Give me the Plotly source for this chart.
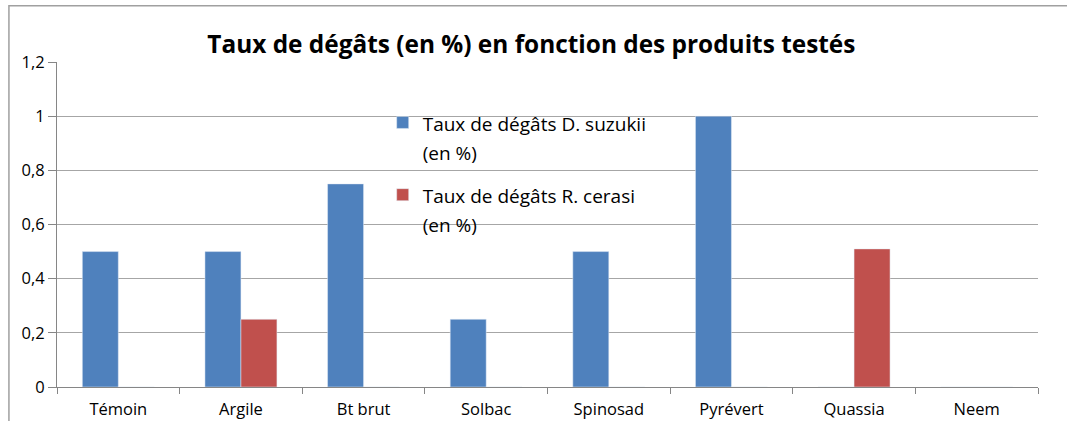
import plotly.graph_objects as go

categories = ["Témoin", "Argile", "Bt brut", "Solbac", "Spinosad", "Pyrévert", "Quassia", "Neem"]
suzukii = [0.5, 0.5, 0.75, 0.25, 0.5, 1.0, 0, 0]
cerasi = [0, 0.25, 0, 0, 0, 0, 0.51, 0]
name_suzukii = "Taux de dégâts D. suzukii<br>(en %)"
name_cerasi = "Taux de dégâts R. cerasi<br>(en %)"
title_text = "Taux de dégâts (en %) en fonction des produits testés"
y_ticks = [0, 0.2, 0.4, 0.6, 0.8, 1.0, 1.2]

FONT = "'Open Sans', Carlito, sans-serif"
LEG_TXT = 19

def leg(name):
    return "<span style='font-size:%dpx'>%s</span>" % (LEG_TXT, name.replace("<br>", "</span><br><span style='font-size:%dpx'>" % LEG_TXT))

fig = go.Figure()
fig.add_trace(go.Bar(x=categories, y=suzukii, name=leg(name_suzukii), marker_color="#4F81BD",
                     legendgroup="a"))
fig.add_trace(go.Bar(x=categories, y=cerasi, name=leg(name_cerasi), marker_color="#C0504D",
                     legendgroup="b"))

fig.update_layout(
    width=1067, height=421,
    margin=dict(l=57, r=29, t=62, b=34, autoexpand=False),
    paper_bgcolor="white", plot_bgcolor="white",
    separators=", ",
    font=dict(family=FONT, size=16, color="#000000"),
    title=dict(text="<b>" + title_text + "</b>", x=0.498, xref="container", xanchor="center",
               y=1 - 44 / 421, yanchor="middle", font=dict(family=FONT, size=24.4, color="#000000")),
    bargap=0.413, bargroupgap=0,
    barmode="group",
    showlegend=True,
    legend=dict(x=0.332, y=0.878, xanchor="left", yanchor="top", valign="top",
                font=dict(family=FONT, size=22, color="#000000"),
                bgcolor="rgba(0,0,0,0)", tracegroupgap=12, itemwidth=30,
                traceorder="grouped"),
)
fig.update_xaxes(showline=True, linecolor="#868686", linewidth=1, ticks="outside", tickson="boundaries",
                 ticklen=6, tickcolor="#868686", showgrid=False, tickfont=dict(size=16.5), automargin=False,
                 ticklabelstandoff=7)
fig.update_yaxes(range=[0, 1.2], tickvals=y_ticks, showline=True, linecolor="#868686", linewidth=1,
                 ticks="outside", ticklen=8, tickcolor="#868686", showgrid=True, gridcolor="#a6a6a6",
                 gridwidth=1, zeroline=False, tickfont=dict(size=16.5), automargin=False)

# outer chart-area border
fig.add_shape(type="rect", xref="paper", yref="paper", x0=-0.049, x1=1.1, y0=-0.3, y1=1.173,
              line=dict(color="#a0a0a0", width=1.5), fillcolor="rgba(0,0,0,0)", layer="below")

fig.write_html("out.html", config={"displayModeBar": False},
               post_script="document.body.style.margin='0';document.body.style.overflow='hidden';")
